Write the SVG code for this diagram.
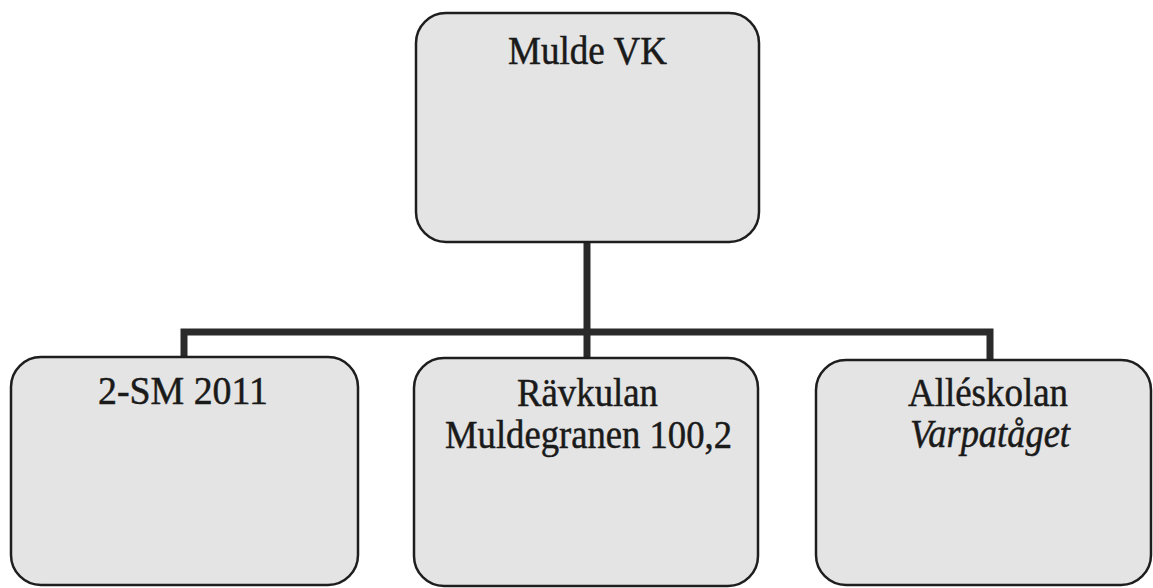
<svg xmlns="http://www.w3.org/2000/svg" width="1153" height="588" viewBox="0 0 1153 588">
<style>
.box{fill:#e4e4e4;stroke:#1e1e1e;stroke-width:2.5}
.lbl{font-family:"Liberation Serif","Times New Roman",serif;font-size:40px;fill:#1a1a1a;stroke:#1a1a1a;stroke-width:0.5;text-anchor:middle}
.it{font-style:italic}
.conn{fill:none;stroke:#2a2a2a;stroke-width:7;stroke-linejoin:miter}
</style>
<rect width="1153" height="588" fill="#ffffff"/>
<g id="connectors">
<path class="conn" d="M587 242 V357"/>
<path class="conn" d="M184 357 V332 H990 V359"/>
</g>
<g id="node-mulde-vk">
<rect class="box" x="416" y="13" width="343" height="229" rx="30" ry="30"/>
<text class="lbl" x="587.5" y="64" textLength="159" lengthAdjust="spacingAndGlyphs">Mulde VK</text>
</g>
<g id="node-2sm">
<rect class="box" x="11" y="357" width="347" height="228" rx="30" ry="30"/>
<text class="lbl" x="183" y="404" textLength="170" lengthAdjust="spacingAndGlyphs">2-SM 2011</text>
</g>
<g id="node-ravkulan">
<rect class="box" x="414" y="358" width="344" height="228" rx="30" ry="30"/>
<text class="lbl" x="587.5" y="406" textLength="141" lengthAdjust="spacingAndGlyphs">Rävkulan</text>
<text class="lbl" x="588.5" y="448" textLength="287" lengthAdjust="spacingAndGlyphs">Muldegranen 100,2</text>
</g>
<g id="node-alleskolan">
<rect class="box" x="816" y="360" width="335" height="225" rx="30" ry="30"/>
<text class="lbl" x="988" y="406" textLength="160" lengthAdjust="spacingAndGlyphs">Alléskolan</text>
<text class="lbl it" x="990" y="447" textLength="160" lengthAdjust="spacingAndGlyphs">Varpatåget</text>
</g>
</svg>
